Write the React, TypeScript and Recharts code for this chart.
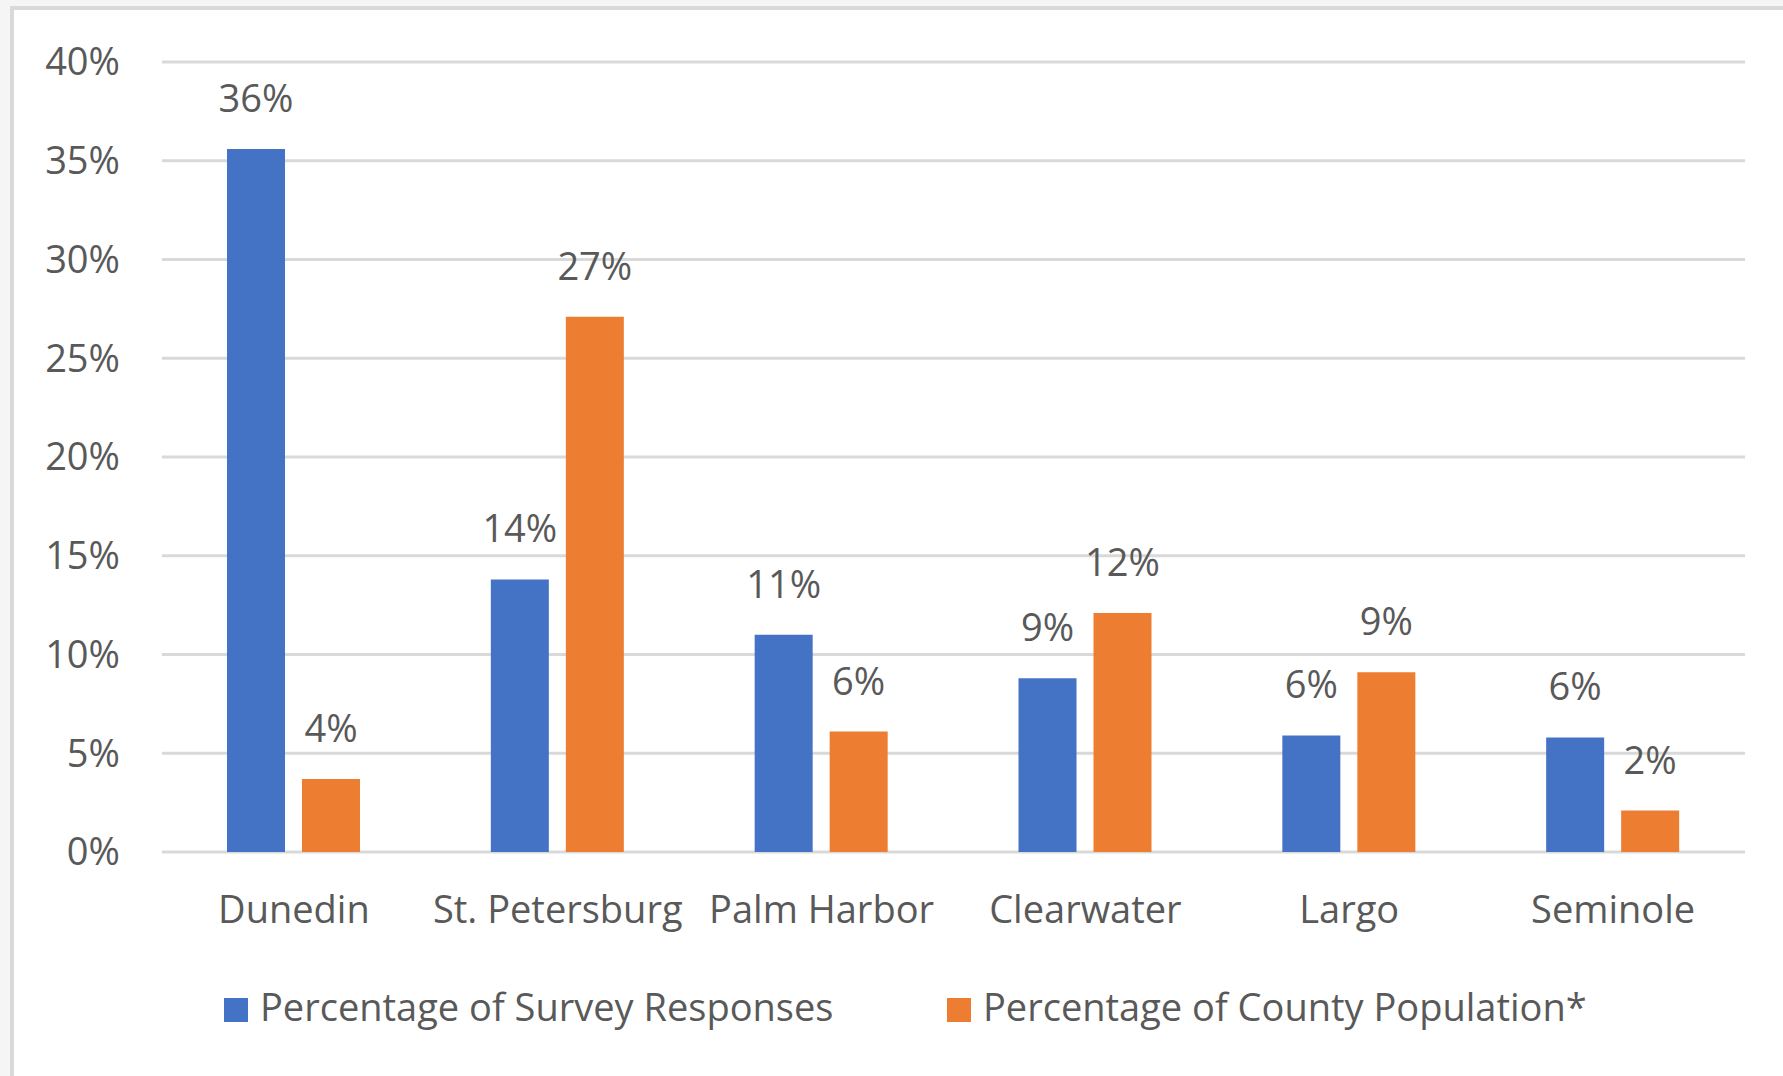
import { Bar, BarChart, CartesianGrid, LabelList, XAxis, YAxis } from "recharts"

const cities = ["Dunedin", "St. Petersburg", "Palm Harbor", "Clearwater", "Largo", "Seminole"]
const surveyShare = [35.6, 13.8, 11.0, 8.8, 5.9, 5.8]
const populationShare = [3.7, 27.1, 6.1, 12.1, 9.1, 2.1]
const yTicks = [0, 5, 10, 15, 20, 25, 30, 35, 40]

const SURVEY_LABEL = "Percentage of Survey Responses"
const POPULATION_LABEL = "Percentage of County Population*"

const BLUE = "#4472C4"
const ORANGE = "#ED7D31"
const TEXT = "#595959"
const GRID = "#d9d9d9"
const FONT = "'Open Sans', sans-serif"

const data = cities.map((city, i) => ({
  city,
  survey: surveyShare[i],
  population: populationShare[i],
}))

const pct = (v: unknown) => `${Math.round(Number(v))}%`

function LegendItem({ left, color, label }: { left: number; color: string; label: string }) {
  return (
    <>
      <div
        style={{ position: "absolute", left, top: 998, width: 24, height: 24, background: color }}
      />
      <div
        style={{
          position: "absolute",
          left: left + 36,
          top: 987,
          fontSize: 38,
          lineHeight: "38px",
          color: TEXT,
          fontFamily: FONT,
          whiteSpace: "nowrap",
        }}
      >
        {label}
      </div>
    </>
  )
}

export default function App() {
  return (
    <div
      style={{
        position: "fixed",
        left: 0,
        top: 0,
        width: 1783,
        height: 1076,
        background: "#f5f5f5",
        overflow: "hidden",
      }}
    >
      <div
        style={{
          position: "absolute",
          left: 10,
          top: 6,
          width: 1800,
          height: 1100,
          background: "#fff",
          borderLeft: `4px solid ${GRID}`,
          borderTop: `4px solid ${GRID}`,
        }}
      />
      <div style={{ position: "absolute", left: 0, top: 0 }}>
        <BarChart
          width={1783}
          height={1076}
          data={data}
          margin={{ top: 62, right: 38, left: 0, bottom: 124 }}
          barSize={58}
          barGap={17}
        >
          <CartesianGrid vertical={false} stroke={GRID} strokeWidth={3} />
          <XAxis
            dataKey="city"
            axisLine={false}
            tickLine={false}
            tickSize={0}
            tickMargin={44}
            height={100}
            interval={0}
            tick={{ fill: TEXT, fontSize: 38, fontFamily: FONT }}
          />
          <YAxis
            domain={[0, 40]}
            ticks={yTicks}
            axisLine={false}
            tickLine={false}
            tickSize={0}
            tickMargin={42}
            width={162}
            tickFormatter={pct}
            tick={{ fill: TEXT, fontSize: 38, fontFamily: FONT }}
          />
          <Bar dataKey="survey" name={SURVEY_LABEL} fill={BLUE} isAnimationActive={false}>
            <LabelList
              dataKey="survey"
              position="top"
              offset={37}
              formatter={pct}
              style={{ fill: TEXT, fontSize: 38, fontFamily: FONT }}
            />
          </Bar>
          <Bar dataKey="population" name={POPULATION_LABEL} fill={ORANGE} isAnimationActive={false}>
            <LabelList
              dataKey="population"
              position="top"
              offset={37}
              formatter={pct}
              style={{ fill: TEXT, fontSize: 38, fontFamily: FONT }}
            />
          </Bar>
        </BarChart>
      </div>
      <LegendItem left={224} color={BLUE} label={SURVEY_LABEL} />
      <LegendItem left={947} color={ORANGE} label={POPULATION_LABEL} />
    </div>
  )
}
